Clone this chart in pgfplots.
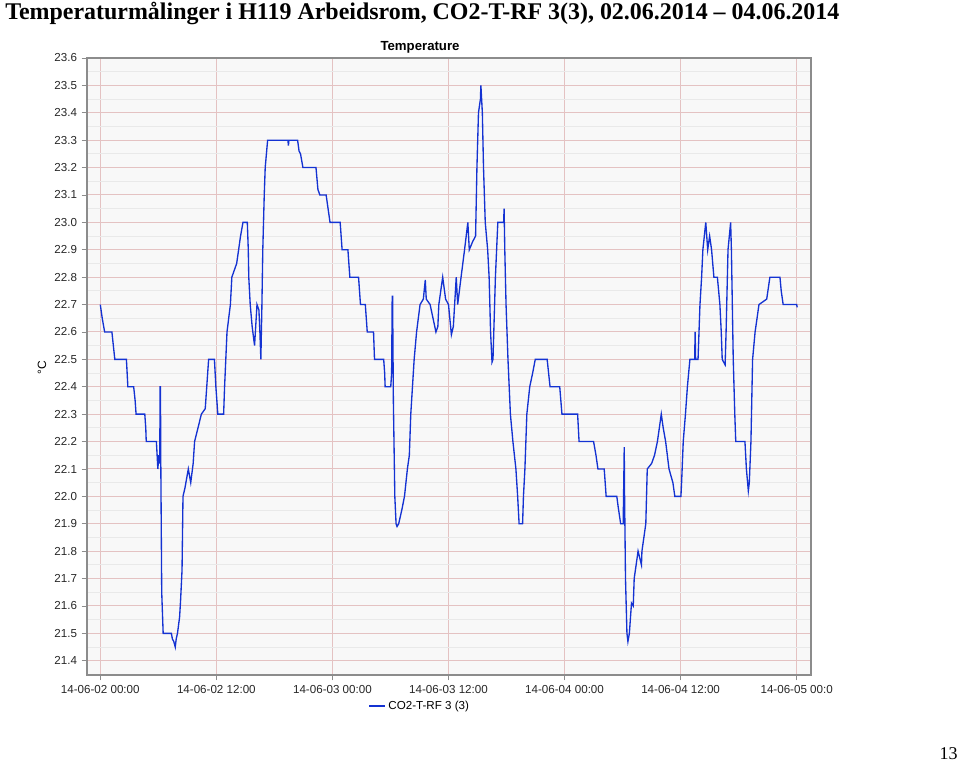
\documentclass[border=0pt]{standalone}
\usepackage{fontspec}
\setmainfont{Liberation Serif}
\newfontfamily\chartfont{Liberation Sans}
\usepackage{pgfplots}
\pgfplotsset{compat=1.18}
\definecolor{bgc}{RGB}{248,248,248}
\definecolor{majg}{RGB}{228,194,194}
\definecolor{ming}{RGB}{233,233,233}
\definecolor{framec}{RGB}{140,140,140}
\definecolor{linec}{RGB}{20,50,210}
\begin{document}
\begin{tikzpicture}
\useasboundingbox (0,0) rectangle (720pt,571.5pt);
\node[anchor=base west, font=\fontsize{17.95}{20}\selectfont\bfseries, inner sep=0pt] at (3.75pt,556.5pt)
  {Temperaturmålinger i H119 Arbeidsrom, CO2-T-RF 3(3), 02.06.2014 – 04.06.2014};
\node[anchor=base east, font=\fontsize{13.5}{15}\selectfont, inner sep=0pt] at (718.5pt,2pt) {13};
\begin{axis}[
  at={(65.25pt,65.25pt)}, anchor=south west,
  width=543pt, height=462.75pt, scale only axis,
  xmin=-1.375, xmax=73.48, ymin=21.348, ymax=23.6,
  axis background/.style={fill=bgc},
  axis line style={framec, line width=0.8pt},
  xtick={0,12,24,36,48,60,72},
  xticklabels={14-06-02 00:00,14-06-02 12:00,14-06-03 00:00,14-06-03 12:00,14-06-04 00:00,14-06-04 12:00,14-06-05 00:0},
  ytick={21.4,21.5,21.6,21.7,21.8,21.9,22.0,22.1,22.2,22.3,22.4,22.5,22.6,22.7,22.8,22.9,23.0,23.1,23.2,23.3,23.4,23.5,23.6},
  minor y tick num=1,
  yticklabel style={/pgf/number format/.cd, fixed, fixed zerofill, precision=1},
  /pgf/number format/assume math mode=true,
  tick label style={font=\chartfont\fontsize{8.7}{10}\selectfont, text=black!85},
  tick align=outside, major tick length=4pt, minor tick length=0pt,
  tick style={framec, line width=0.6pt},
  xtick pos=bottom, ytick pos=left,
  grid=both,
  major grid style={majg, line width=0.75pt},
  minor grid style={ming, line width=0.6pt},
  title={\chartfont\bfseries Temperature},
  title style={font=\fontsize{9.9}{11}\selectfont, at={(0.46,1)}, anchor=south, yshift=-6pt},
  legend style={at={(0.46,-0.05)}, anchor=center, draw=none, fill=none,
    font=\chartfont\fontsize{8.7}{10}\selectfont, inner sep=0pt},
  legend image code/.code={\draw[#1] (0pt,0pt) -- (12pt,0pt);},
]
\addplot[linec, line width=1pt] coordinates {
(0,22.70) (0.2,22.65) (0.45,22.60) (1.2,22.60) (1.35,22.55) (1.5,22.50) (2.7,22.50) (2.85,22.40)
(3.45,22.40) (3.6,22.35) (3.7,22.30) (4.6,22.30) (4.7,22.25) (4.75,22.20) (5.8,22.20) (5.95,22.10)
(6.05,22.15) (6.15,22.12) (6.18,22.40) (6.22,22.40) (6.25,22.15) (6.35,21.65) (6.5,21.50) (7.35,21.50)
(7.45,21.48) (7.6,21.47) (7.75,21.45) (7.85,21.48) (7.98,21.50) (8.2,21.56) (8.3,21.62) (8.45,21.73)
(8.55,22.00) (8.75,22.03) (9.0,22.08) (9.1,22.10) (9.35,22.05) (9.6,22.12) (9.75,22.20) (10.1,22.25)
(10.45,22.30) (10.85,22.32) (11.2,22.50) (11.8,22.50) (11.95,22.40) (12.15,22.30) (12.75,22.30) (12.85,22.40)
(13.1,22.60) (13.45,22.70) (13.6,22.80) (14.1,22.85) (14.3,22.90) (14.5,22.95) (14.75,23.00) (15.2,23.00)
(15.3,22.90) (15.35,22.80) (15.5,22.70) (15.7,22.62) (15.95,22.55) (16.2,22.70) (16.4,22.68) (16.5,22.60)
(16.6,22.50) (16.7,22.68) (16.8,22.90) (16.95,23.10) (17.05,23.20) (17.3,23.30) (19.4,23.30) (19.45,23.28)
(19.5,23.30) (20.4,23.30) (20.55,23.26) (20.7,23.25) (20.85,23.22) (20.95,23.20) (22.3,23.20) (22.5,23.12)
(22.7,23.10) (23.35,23.10) (23.55,23.05) (23.75,23.00) (24.8,23.00) (25.0,22.90) (25.6,22.90) (25.8,22.80)
(26.7,22.80) (26.9,22.70) (27.4,22.70) (27.6,22.60) (28.25,22.60) (28.35,22.50) (29.3,22.50) (29.4,22.45)
(29.45,22.40) (30.03,22.40) (30.12,22.45) (30.18,22.73) (30.22,22.73) (30.3,22.35) (30.45,22.00) (30.58,21.90)
(30.68,21.89) (30.85,21.90) (31.17,21.95) (31.45,22.00) (31.75,22.10) (31.95,22.15) (32.1,22.30) (32.45,22.50)
(32.7,22.60) (33.06,22.70) (33.4,22.72) (33.6,22.79) (33.7,22.72) (34.1,22.70) (34.4,22.65) (34.7,22.60)
(34.9,22.62) (35.0,22.70) (35.4,22.80) (35.7,22.72) (36.0,22.70) (36.3,22.59) (36.5,22.62) (36.8,22.80)
(36.95,22.70) (37.3,22.80) (37.66,22.90) (38.0,23.00) (38.15,22.90) (38.5,22.93) (38.8,22.95) (38.94,23.20)
(39.1,23.40) (39.3,23.45) (39.35,23.50) (39.5,23.40) (39.62,23.20) (39.8,23.00) (40.05,22.90) (40.2,22.80)
(40.35,22.60) (40.5,22.49) (40.6,22.50) (40.85,22.80) (41.1,23.00) (41.7,23.00) (41.75,23.05) (41.82,22.90)
(41.95,22.70) (42.15,22.50) (42.4,22.30) (42.66,22.20) (42.97,22.10) (43.15,22.00) (43.3,21.90) (43.66,21.90)
(43.75,22.00) (43.9,22.10) (44.1,22.30) (44.4,22.40) (44.7,22.45) (44.97,22.50) (46.2,22.50) (46.5,22.40)
(47.5,22.40) (47.73,22.30) (49.35,22.30) (49.5,22.20) (51.0,22.20) (51.25,22.15) (51.45,22.10) (52.1,22.10)
(52.3,22.00) (53.4,22.00) (53.55,21.96) (53.8,21.90) (54.06,21.90) (54.12,22.05) (54.17,22.18) (54.2,22.02)
(54.3,21.70) (54.45,21.50) (54.55,21.47) (54.7,21.50) (54.92,21.61) (55.1,21.60) (55.2,21.70) (55.6,21.80)
(55.95,21.75) (56.0,21.80) (56.4,21.90) (56.55,22.10) (57.0,22.12) (57.3,22.15) (57.6,22.20) (58.0,22.30)
(58.2,22.25) (58.45,22.20) (58.8,22.10) (59.2,22.05) (59.4,22.00) (60.03,22.00) (60.1,22.05) (60.27,22.20)
(60.5,22.30) (60.7,22.40) (60.96,22.50) (61.45,22.50) (61.5,22.60) (61.55,22.50) (61.8,22.50) (62.0,22.70)
(62.17,22.80) (62.3,22.90) (62.6,23.00) (62.8,22.90) (63.0,22.95) (63.2,22.90) (63.44,22.80) (63.8,22.80)
(64.06,22.70) (64.2,22.60) (64.3,22.50) (64.6,22.48) (64.7,22.60) (64.9,22.90) (65.17,23.00) (65.25,22.90)
(65.44,22.50) (65.6,22.30) (65.7,22.20) (66.65,22.20) (66.8,22.10) (67.0,22.02) (67.1,22.05) (67.27,22.20)
(67.44,22.50) (67.7,22.60) (68.1,22.70) (68.9,22.72) (69.23,22.80) (70.27,22.80) (70.4,22.75) (70.6,22.70)
(72.0,22.70) (72.05,22.69)
};
\addlegendentry{CO2-T-RF 3 (3)}
\end{axis}
\node[rotate=90, font=\chartfont\fontsize{9}{10}\selectfont] at (31.5pt,295.5pt) {°C};
\end{tikzpicture}
\end{document}
